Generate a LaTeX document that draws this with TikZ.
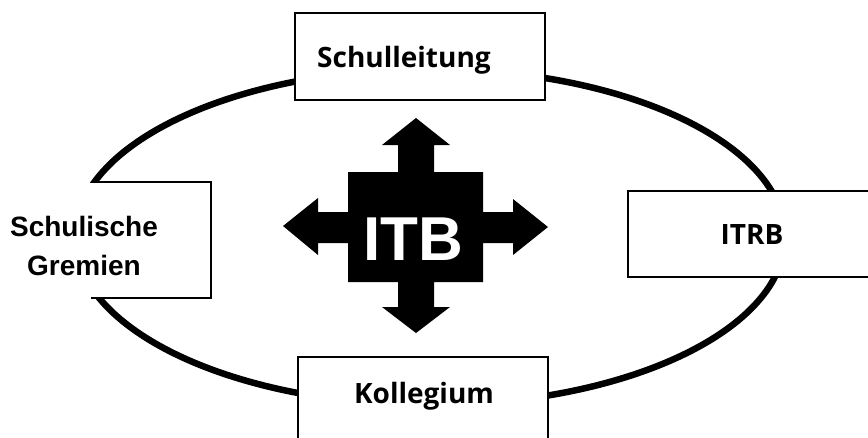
\documentclass[tikz,border=0pt]{standalone}
\usepackage{fontspec}
\setmainfont{Liberation Sans}
\newfontfamily\boxfont{Open Sans}
\usetikzlibrary{positioning}

\begin{document}
\begin{tikzpicture}[
        x=1pt, y=-1pt,
        ring/.style={draw=black, line width=6.5pt},
        box/.style={draw=black, line width=2pt, fill=white, minimum width=250pt, inner sep=0pt},
        boxlabel/.style={font=\boxfont\bfseries\fontsize{28}{30}\selectfont, inner sep=0pt, anchor=base},
        sidelabel/.style={font=\bfseries\fontsize{28}{39}\selectfont, align=center, inner sep=0pt},
        itbshape/.style={fill=black}
    ]
    \useasboundingbox (0,0) rectangle (868,437);

    % the ring behind the boxes
    \draw[ring] (430,237) ellipse [x radius=355, y radius=168];

    \node[box, minimum height=87pt] (leitungbox) at (420,56.5) {};
    \node[box, minimum height=86pt] (itrbbox) at (753,234) {};
    \node[box, minimum height=88pt] (kollegbox) at (423,401) {};
    \node[box, draw=none, minimum width=150pt, minimum height=114pt] (gremienbox) at (135,240) {};
    \draw[line width=2pt] ([xshift=32pt]gremienbox.north west) -| (gremienbox.south east) -- ([xshift=32pt]gremienbox.south west);

    \node[boxlabel] (leitung) at (404,67) {Schulleitung};
    \node[boxlabel] (itrb) at (752,244) {ITRB};
    \node[boxlabel] (kolleg) at (424,403) {Kollegium};
    \node[sidelabel] (gremien) at (84,246) {Schulische\\Gremien};

    % ITB with four arrows
    \fill[itbshape] (416,118) -- (450,145) -- (434,145) -- (434,172) -- (483,172) -- (483,212)
        -- (513,212) -- (513,199) -- (548,227) -- (513,255) -- (513,243) -- (483,243)
        -- (483,282) -- (434,282) -- (434,307) -- (450,307) -- (416,333) -- (382,307)
        -- (398,307) -- (398,282) -- (348,282) -- (348,243) -- (318,243) -- (318,255)
        -- (283,226) -- (318,198) -- (318,212) -- (348,212) -- (348,172) -- (398,172)
        -- (398,145) -- (382,145) -- cycle;
    \node[text=white, font=\bfseries\fontsize{62}{62}\selectfont, inner sep=0pt, anchor=base] (itb) at (413,260) {ITB};

\end{tikzpicture}
\end{document}
